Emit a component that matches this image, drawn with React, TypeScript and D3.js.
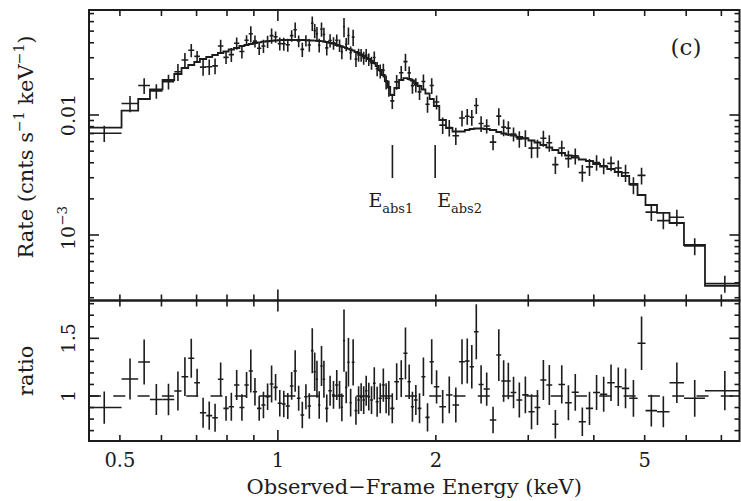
import React from 'react';
import * as d3 from 'd3';

// Energy bin edges (keV)
const binEdges = [
  0.43, 0.5036, 0.5418, 0.5705, 0.6029, 0.6347, 0.6553, 0.6748, 0.6929, 0.7103, 0.7302,
  0.7497, 0.7686, 0.7874, 0.8058, 0.8248, 0.8446, 0.8634, 0.8799, 0.8962, 0.9125,
  0.9302, 0.9471, 0.9647, 0.9809, 0.9991, 1.0177, 1.0348, 1.054, 1.0708, 1.0869,
  1.1042, 1.1222, 1.1396, 1.1563, 1.1695, 1.1814, 1.1928, 1.2049, 1.2171, 1.2306,
  1.2479, 1.2672, 1.2857, 1.3039, 1.3177, 1.3305, 1.3428, 1.3564, 1.3695, 1.3828,
  1.3999, 1.4172, 1.4328, 1.4492, 1.4652, 1.4814, 1.499, 1.5175, 1.5356, 1.556,
  1.578, 1.5989, 1.6172, 1.6372, 1.6669, 1.7016, 1.7347, 1.7662, 1.792, 1.8174,
  1.8463, 1.8773, 1.9105, 1.946, 1.9822, 2.0306, 2.0911, 2.1516, 2.2148, 2.2718,
  2.3191, 2.3643, 2.4125, 2.466, 2.534, 2.6073, 2.6651, 2.7206, 2.7773, 2.8475,
  2.9222, 3.0027, 3.0841, 3.1637, 3.248, 3.3332, 3.4249, 3.5254, 3.6308, 3.744,
  3.8626, 3.9866, 4.111, 4.2429, 4.3848, 4.5216, 4.6728, 4.8459, 5.0183, 5.278,
  5.5757, 5.9411, 6.5148, 7.7,
];

// Folded model rate per bin (cnts s^-1 keV^-1)
const modelRate = [
  0.007836, 0.01086, 0.013594, 0.016374, 0.019568, 0.021964, 0.024646, 0.026102, 0.027644, 0.029286,
  0.030425, 0.031623, 0.032857, 0.033818, 0.035137, 0.036166, 0.037584, 0.038312, 0.039054, 0.039811,
  0.040347, 0.040814, 0.04121, 0.041527, 0.041767, 0.042008, 0.04217, 0.04217, 0.04217, 0.04217,
  0.04217, 0.04217, 0.04201, 0.04193, 0.041767, 0.04169, 0.041527, 0.041369, 0.04121, 0.040973,
  0.04058, 0.039964, 0.039429, 0.038312, 0.037728, 0.037224, 0.036728, 0.036166, 0.035612, 0.035137,
  0.03447, 0.033497, 0.032857, 0.031928, 0.031019, 0.030139, 0.029286, 0.028184, 0.027123, 0.025605,
  0.023714, 0.021544, 0.019195, 0.017113, 0.01468, 0.016788, 0.019568, 0.020329, 0.019953, 0.019387,
  0.018478, 0.017445, 0.016312, 0.015103, 0.013594, 0.011885, 0.009085, 0.00779, 0.007286, 0.007286,
  0.007499, 0.007644, 0.007718, 0.007718, 0.007644, 0.007499, 0.007217, 0.007012, 0.006879, 0.006749,
  0.006558, 0.006372, 0.006131, 0.0059, 0.005623, 0.00536, 0.005109, 0.004823, 0.004597, 0.004423,
  0.004257, 0.004136, 0.003906, 0.003723, 0.003548, 0.00335, 0.003101, 0.002661, 0.002154, 0.001778,
  0.001526, 0.001259, 0.000825, 0.000376,
];

// Data / model ratio per bin
const ratio = [
  0.9, 1.147, 1.295, 0.97, 0.97, 1.043, 1.167, 1.327, 1.115, 0.855,
  0.83, 0.812, 1.145, 0.893, 0.907, 1.095, 0.9, 1.095, 1.217, 1.037,
  0.893, 0.922, 0.994, 1.104, 1.075, 0.937, 0.93, 0.913, 1.087, 1.217,
  0.98, 0.835, 0.994, 0.913, 1.393, 1.21, 1.145, 0.922, 1.26, 1.145,
  0.893, 1.046, 1.009, 1.095, 1.01, 0.902, 1.48, 1.075, 1.292, 0.942,
  1.292, 0.873, 0.965, 0.99, 0.965, 1.046, 0.994, 0.965, 1.11, 0.95,
  0.98, 1.095, 0.98, 0.98, 0.893, 1.124, 1.15, 1.37, 1.124, 0.907,
  0.965, 0.893, 1.167, 0.815, 1.297, 1.08, 0.907, 1.009, 0.922, 1.297,
  1.303, 1.254, 1.557, 1.1, 1.06, 0.792, 1.355, 1.13, 1.13, 1.03,
  0.965, 1.01, 0.864, 0.9, 1.139, 1.095, 0.755, 1.1, 0.942, 1.032,
  0.777, 0.893, 1.03, 1.015, 1.115, 1.08, 1.066, 0.98, 1.457, 0.873,
  0.864, 1.115, 0.98, 1.046,
];

// 1-sigma ratio errors per bin
const ratioErr = [
  0.14, 0.178, 0.195, 0.134, 0.137, 0.169, 0.168, 0.169, 0.122, 0.13,
  0.123, 0.121, 0.146, 0.108, 0.121, 0.13, 0.115, 0.113, 0.186, 0.12,
  0.108, 0.115, 0.115, 0.16, 0.115, 0.115, 0.115, 0.113, 0.12, 0.18,
  0.108, 0.115, 0.108, 0.11, 0.195, 0.166, 0.16, 0.12, 0.173, 0.16,
  0.12, 0.13, 0.12, 0.13, 0.12, 0.12, 0.27, 0.137, 0.21, 0.12,
  0.2, 0.123, 0.12, 0.12, 0.12, 0.13, 0.12, 0.12, 0.14, 0.13,
  0.13, 0.144, 0.13, 0.15, 0.13, 0.159, 0.159, 0.224, 0.15, 0.13,
  0.13, 0.13, 0.166, 0.123, 0.195, 0.144, 0.144, 0.159, 0.152, 0.195,
  0.195, 0.188, 0.238, 0.166, 0.144, 0.115, 0.224, 0.18, 0.159, 0.137,
  0.152, 0.159, 0.152, 0.152, 0.173, 0.173, 0.123, 0.166, 0.152, 0.159,
  0.123, 0.144, 0.152, 0.152, 0.159, 0.166, 0.173, 0.159, 0.231, 0.137,
  0.134, 0.176, 0.159, 0.17,
];

const absEnergies = [1.653, 1.994];
const absLabels = ['abs1', 'abs2'];
const xTickLabels = [0.5, 1, 2, 5];
const ratioTickLabels = [1, 1.5];
const panelLabel = '(c)';

const W = 741;
const H = 501;
const L = 89;
const R = 739.5;
const T = 10;
const MID = 300.5;
const B = 441;
const FONT = "'DejaVu Serif', serif";
const INK = '#1c1c1c';

const isPow10 = (v: number) => {
  const l = Math.log10(v);
  return Math.abs(l - Math.round(l)) < 1e-6;
};

export default function App() {
  const x = d3.scaleLog().domain([0.4366, 7.58]).range([L, R]);
  const yTop = d3.scaleLog().domain([2.845e-4, 0.075]).range([MID, T]);
  const yBot = d3.scaleLinear().domain([0.61, 1.8276]).range([B, MID]);

  const n = ratio.length;
  const bins = d3.range(n).map((i) => {
    const lo = binEdges[i];
    const hi = binEdges[i + 1];
    const m = modelRate[i];
    return {
      lo,
      hi,
      c: (lo + hi) / 2,
      m,
      r: ratio[i],
      e: ratioErr[i],
      d: m * ratio[i],
      de: m * ratioErr[i],
    };
  });

  const stepPts: [number, number][] = [
    ...bins.map((b) => [b.lo, b.m] as [number, number]),
    [bins[n - 1].hi, bins[n - 1].m],
  ];
  const stepLine = d3
    .line<[number, number]>()
    .x((d) => x(d[0]))
    .y((d) => yTop(d[1]))
    .curve(d3.curveStepAfter);

  const xTicks = x.ticks();
  const yTopTicks = yTop.ticks();
  const yBotTicks = yBot.ticks(12);
  const isMajorBot = (v: number) => Math.abs(v * 2 - Math.round(v * 2)) < 1e-6;

  const tickLines: JSX.Element[] = [];
  let k = 0;
  xTicks.forEach((v) => {
    const len = isPow10(v) ? 11 : 6;
    const px = x(v);
    tickLines.push(<line key={k++} x1={px} x2={px} y1={T} y2={T + len} />);
    tickLines.push(<line key={k++} x1={px} x2={px} y1={MID} y2={MID - len} />);
    tickLines.push(<line key={k++} x1={px} x2={px} y1={MID} y2={MID + len} />);
    tickLines.push(<line key={k++} x1={px} x2={px} y1={B} y2={B - len} />);
  });
  yTopTicks.forEach((v) => {
    const len = isPow10(v) ? 10 : 5;
    const py = yTop(v);
    tickLines.push(<line key={k++} x1={L} x2={L + len} y1={py} y2={py} />);
    tickLines.push(<line key={k++} x1={R} x2={R - len} y1={py} y2={py} />);
  });
  yBotTicks.forEach((v) => {
    const len = isMajorBot(v) ? 10 : 5;
    const py = yBot(v);
    tickLines.push(<line key={k++} x1={L} x2={L + len} y1={py} y2={py} />);
    tickLines.push(<line key={k++} x1={R} x2={R - len} y1={py} y2={py} />);
  });

  // label offsets relative to marker lines (first label sits left of its line, second right)
  const absLabelOffsets = [-24, 2];

  return (
    <svg
      width={W}
      height={H}
      viewBox={`0 0 ${W} ${H}`}
      style={{ position: 'absolute', left: 0, top: 0, background: '#fff' }}
      fontFamily={FONT}
    >
      <defs>
        <clipPath id="clipTop">
          <rect x={L} y={T} width={R - L} height={MID - T} />
        </clipPath>
        <clipPath id="clipBot">
          <rect x={L} y={MID} width={R - L} height={B - MID} />
        </clipPath>
      </defs>
      <rect x={0} y={0} width={W} height={H} fill="#fff" />

      {/* Top panel: model and data */}
      <g clipPath="url(#clipTop)" stroke={INK} fill="none">
        <path d={stepLine(stepPts) || ''} strokeWidth={1.8} />
        {bins.map((b, i) => (
          <g key={i} strokeWidth={1.6}>
            <line x1={x(b.lo)} x2={x(b.hi)} y1={yTop(b.d)} y2={yTop(b.d)} />
            <line x1={x(b.c)} x2={x(b.c)} y1={yTop(b.d + b.de)} y2={yTop(b.d - b.de)} />
          </g>
        ))}
      </g>

      {/* Absorption markers */}
      <g stroke={INK} strokeWidth={1.6}>
        {absEnergies.map((e, i) => (
          <line key={i} x1={x(e)} x2={x(e)} y1={145} y2={178} />
        ))}
      </g>
      {absEnergies.map((e, i) => (
        <text key={i} x={x(e) + absLabelOffsets[i]} y={207} fill={INK} fontSize={19}>
          E
          <tspan fontSize={13} dy={6}>
            {absLabels[i]}
          </tspan>
        </text>
      ))}
      <text x={686} y={55} fill={INK} fontSize={23} textAnchor="middle">
        {panelLabel}
      </text>

      {/* Bottom panel: ratio */}
      <g clipPath="url(#clipBot)" stroke={INK} fill="none">
        <line
          x1={L}
          x2={R}
          y1={yBot(1)}
          y2={yBot(1)}
          strokeWidth={1.6}
          strokeDasharray="12 12.3"
        />
        {bins.map((b, i) => (
          <g key={i} strokeWidth={1.6}>
            <line x1={x(b.lo)} x2={x(b.hi)} y1={yBot(b.r)} y2={yBot(b.r)} />
            <line x1={x(b.c)} x2={x(b.c)} y1={yBot(b.r + b.e)} y2={yBot(b.r - b.e)} />
          </g>
        ))}
      </g>

      {/* Frames and ticks */}
      <g stroke={INK} strokeWidth={1.6} fill="none">
        {tickLines}
      </g>
      <g stroke={INK} strokeWidth={2} fill="none">
        <rect x={L} y={T} width={R - L} height={MID - T} />
        <rect x={L} y={MID} width={R - L} height={B - MID} />
      </g>

      {/* X tick labels */}
      {xTickLabels.map((v) => (
        <text key={v} x={x(v)} y={467} textAnchor="middle" fontSize={19.5} fill={INK}>
          {String(v)}
        </text>
      ))}
      <text x={(L + R) / 2} y={494} textAnchor="middle" fontSize={21} fill={INK}>
        Observed−Frame Energy (keV)
      </text>

      {/* Y tick labels top */}
      <text transform={`translate(75,${yTop(0.01)}) rotate(-90)`} textAnchor="middle" fontSize={19} fill={INK}>
        0.01
      </text>
      <text transform={`translate(75,${yTop(0.001) - 7}) rotate(-90)`} textAnchor="middle" fontSize={19} fill={INK}>
        10
        <tspan fontSize={13.5} dy={-8}>
          −3
        </tspan>
      </text>
      <text transform={`translate(33,147) rotate(-90)`} textAnchor="middle" fontSize={21} fill={INK}>
        Rate (cnts s
        <tspan fontSize={14} dy={-9}>
          −1
        </tspan>
        <tspan dy={9}> keV</tspan>
        <tspan fontSize={14} dy={-9}>
          −1
        </tspan>
        <tspan dy={9}>)</tspan>
      </text>

      {/* Y tick labels bottom */}
      {ratioTickLabels.map((v) => (
        <text
          key={v}
          transform={`translate(75,${yBot(v)}) rotate(-90)`}
          textAnchor="middle"
          fontSize={19}
          fill={INK}
        >
          {String(v)}
        </text>
      ))}
      <text transform={`translate(33,${(MID + B) / 2}) rotate(-90)`} textAnchor="middle" fontSize={21} fill={INK}>
        ratio
      </text>
    </svg>
  );
}
